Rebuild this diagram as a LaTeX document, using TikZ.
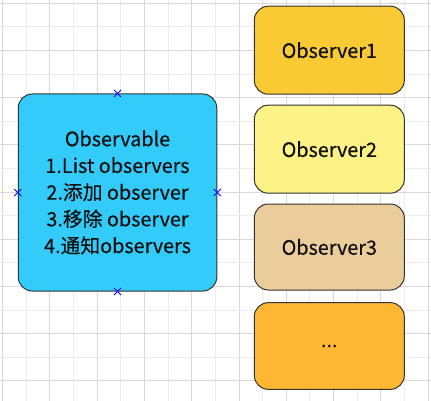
\documentclass[tikz,border=0pt]{standalone}
\usepackage{fontspec}
\setmainfont{Noto Sans CJK SC}[FakeBold=0.4]
\definecolor{gridA}{HTML}{D9D9D9}
\definecolor{gridB}{HTML}{ECECEC}
\definecolor{blueF}{HTML}{33CCFA}
\definecolor{obsA}{HTML}{F9CA34}
\definecolor{obsB}{HTML}{FDF285}
\definecolor{obsC}{HTML}{EBCD9C}
\definecolor{obsD}{HTML}{FDB733}
\definecolor{edge}{HTML}{333333}
\definecolor{txt}{HTML}{111111}
\begin{document}
\begin{tikzpicture}[x=1pt,y=-1pt,
  box/.style={draw=edge,line width=1pt,rounded corners=14pt,align=center,inner sep=0pt,
    font=\fontsize{19.8}{26.7}\selectfont,text=txt},
  xmark/.style={draw=blue,line width=0.9pt},
]
\fill[white] (0,0) rectangle (431,401);
\useasboundingbox (0,0) rectangle (431,401);
% grid
\foreach \i/\c in {0/gridA,1/gridB,2/gridA,3/gridB,4/gridA,5/gridB,6/gridA,7/gridB,8/gridA,9/gridB,10/gridA,11/gridB,12/gridA,13/gridB,14/gridA,15/gridB,16/gridA,17/gridB,18/gridA}{
  \draw[draw=\c,line width=1pt] ({2.7+23.63*\i},0) -- ({2.7+23.63*\i},401);
}
\foreach \j/\c in {0/gridA,1/gridB,2/gridA,3/gridB,4/gridA,5/gridB,6/gridA,7/gridB,8/gridA,9/gridB,10/gridA,11/gridB,12/gridA,13/gridB,14/gridA,15/gridB,16/gridA}{
  \draw[draw=\c,line width=1pt] (0,{3.3+23.6*\j}) -- (431,{3.3+23.6*\j});
}
% boxes
\node[box,fill=blueF,minimum width=198.5pt,minimum height=197pt] (obs) at (117.5,192.5)
  {Observable\\1.List observers\\2.添加 observer\\3.移除 observer\\4.通知observers};
\node[box,fill=obsA,minimum width=150pt,minimum height=88pt] (o1) at (329.3,50.2) {Observer1};
\node[box,fill=obsB,minimum width=150pt,minimum height=88pt] (o2) at (329.3,149.2) {Observer2};
\node[box,fill=obsC,minimum width=150pt,minimum height=86pt] (o3) at (329.3,247) {Observer3};
\node[box,fill=obsD,minimum width=150pt,minimum height=86.7pt] (o4) at (329.3,346) {...};
% connection markers
\foreach \a in {north,south,east,west}{
  \draw[xmark] ([shift={(-3.5pt,-3.5pt)}]obs.\a) -- ([shift={(3.5pt,3.5pt)}]obs.\a);
  \draw[xmark] ([shift={(-3.5pt,3.5pt)}]obs.\a) -- ([shift={(3.5pt,-3.5pt)}]obs.\a);
}
\end{tikzpicture}
\end{document}
